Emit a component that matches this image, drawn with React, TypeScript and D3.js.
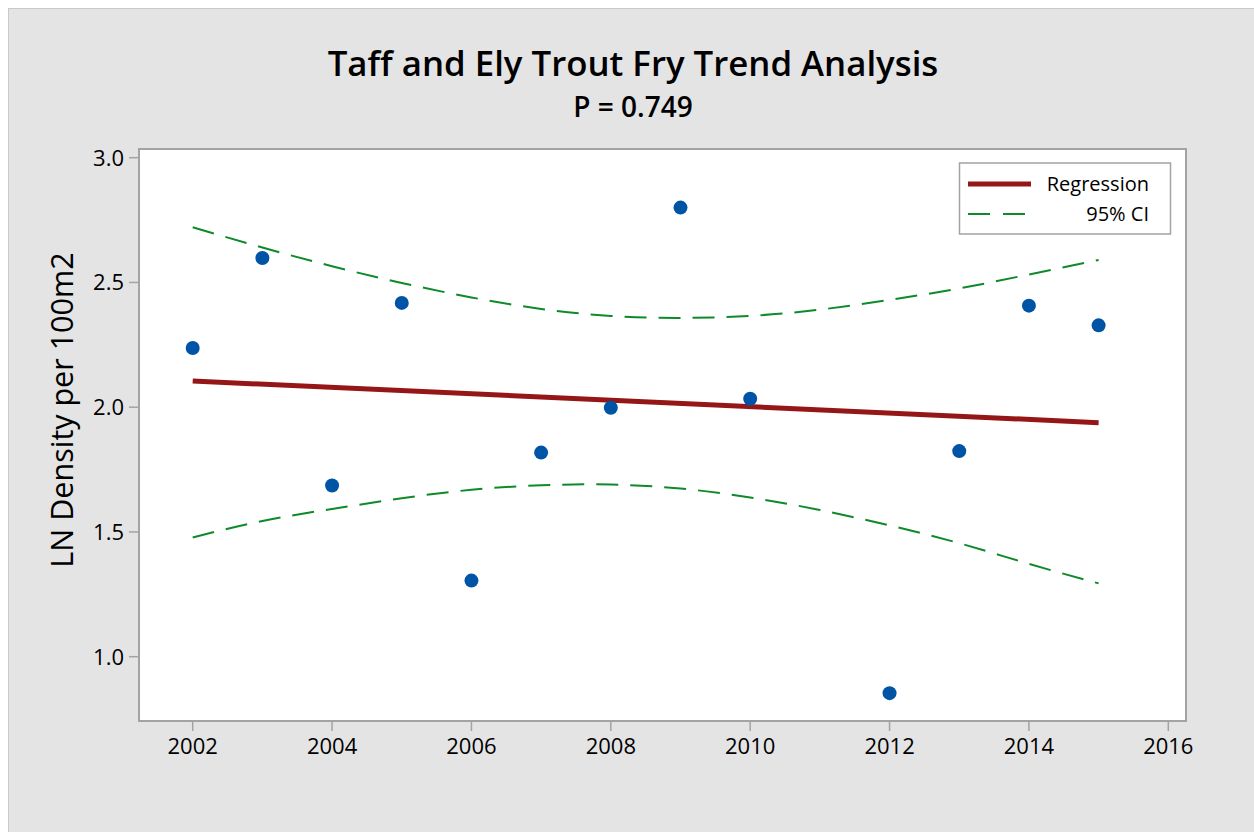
import React from "react";
import * as d3 from "d3";

const title = "Taff and Ely Trout Fry Trend Analysis";
const subtitle = "P = 0.749";
const yLabel = "LN Density per 100m2";

const pointYears = [2002, 2003, 2004, 2005, 2006, 2007, 2008, 2009, 2010, 2012, 2013, 2014, 2015];
const pointValues = [2.237, 2.598, 1.686, 2.418, 1.305, 1.818, 1.998, 2.8, 2.034, 0.854, 1.824, 2.407, 2.328];

const regYears = [2002, 2015];
const regValues = [2.105, 1.938];

const ciYears = [2002, 2003, 2004, 2005, 2006, 2007, 2008, 2009, 2010, 2011, 2012, 2013, 2014, 2015];
const ciUpper = [2.721, 2.64, 2.565, 2.498, 2.44, 2.394, 2.366, 2.358, 2.366, 2.391, 2.43, 2.476, 2.532, 2.59];
const ciLower = [1.478, 1.544, 1.592, 1.635, 1.669, 1.687, 1.69, 1.674, 1.638, 1.588, 1.526, 1.455, 1.372, 1.294];

const xTicks = [2002, 2004, 2006, 2008, 2010, 2012, 2014, 2016];
const yTicks = [1.0, 1.5, 2.0, 2.5, 3.0];

const legendItems = ["Regression", "95% CI"];

const FONT = "'Open Sans', 'Noto Sans', sans-serif";

export default function App() {
  const W = 1254;
  const H = 832;
  const plot = { left: 139, top: 149, right: 1186, bottom: 721 };

  const x = d3.scaleLinear().domain([2002, 2016]).range([192.7, 1168.3]);
  const y = d3.scaleLinear().domain([1, 3]).range([656.7, 157.7]);

  const regLine = d3
    .line<number>()
    .x((_, i) => x(regYears[i]))
    .y((d) => y(d));
  const ciLine = d3
    .line<number>()
    .x((_, i) => x(ciYears[i]))
    .y((d) => y(d))
    .curve(d3.curveNatural);

  const fmt = d3.format(".1f");

  const blue = "#0054a6";
  const red = "#951616";
  const green = "#0e8a2a";
  const axisGray = "#a3a3a3";

  return (
    <svg
      width={W}
      height={H}
      style={{ position: "absolute", left: 0, top: 0 }}
      fontFamily={FONT}
    >
      <rect x={0} y={0} width={W} height={H} fill="#ffffff" />
      <rect x={8.5} y={8.5} width={W + 10} height={H + 10} fill="#e4e4e4" stroke="#c9c9c9" strokeWidth={1} />

      <text x={633} y={76} textAnchor="middle" fontSize={34.8} fontWeight={600} fill="#000">
        {title}
      </text>
      <text x={633} y={117} textAnchor="middle" fontSize={28} fontWeight={600} fill="#000">
        {subtitle}
      </text>

      <rect
        x={plot.left}
        y={plot.top}
        width={plot.right - plot.left}
        height={plot.bottom - plot.top}
        fill="#ffffff"
        stroke={axisGray}
        strokeWidth={2}
      />

      {yTicks.map((t) => (
        <g key={"y" + t}>
          <line x1={plot.left - 10} x2={plot.left} y1={y(t)} y2={y(t)} stroke={axisGray} strokeWidth={1.5} />
          <text x={124} y={y(t) + 8} textAnchor="end" fontSize={22} fill="#000">
            {fmt(t)}
          </text>
        </g>
      ))}

      {xTicks.map((t) => (
        <g key={"x" + t}>
          <line x1={x(t)} x2={x(t)} y1={plot.bottom} y2={plot.bottom + 10} stroke={axisGray} strokeWidth={1.5} />
          <text x={x(t)} y={754} textAnchor="middle" fontSize={22} fill="#000">
            {t}
          </text>
        </g>
      ))}

      <text
        transform={`translate(73, 410) rotate(-90)`}
        textAnchor="middle"
        fontSize={30.5}
        fontWeight={500}
        fill="#000"
      >
        {yLabel}
      </text>

      <path d={ciLine(ciUpper) || ""} fill="none" stroke={green} strokeWidth={2} strokeDasharray="22 12" />
      <path d={ciLine(ciLower) || ""} fill="none" stroke={green} strokeWidth={2} strokeDasharray="22 12" />
      <path d={regLine(regValues) || ""} fill="none" stroke={red} strokeWidth={5} />

      {pointValues.map((v, i) => (
        <circle key={"p" + i} cx={x(pointYears[i])} cy={y(v)} r={7} fill={blue} />
      ))}

      <g>
        <rect x={959.5} y={163} width={211} height={71} fill="#ffffff" stroke={axisGray} strokeWidth={1.5} />
        <line x1={968} x2={1031} y1={184} y2={184} stroke={red} strokeWidth={5} />
        <text x={1149} y={191} textAnchor="end" fontSize={20} fill="#000">
          {legendItems[0]}
        </text>
        <line x1={968} x2={1025} y1={214} y2={214} stroke={green} strokeWidth={2} strokeDasharray="22 13" />
        <text x={1149} y={221} textAnchor="end" fontSize={20} fill="#000">
          {legendItems[1]}
        </text>
      </g>
    </svg>
  );
}
